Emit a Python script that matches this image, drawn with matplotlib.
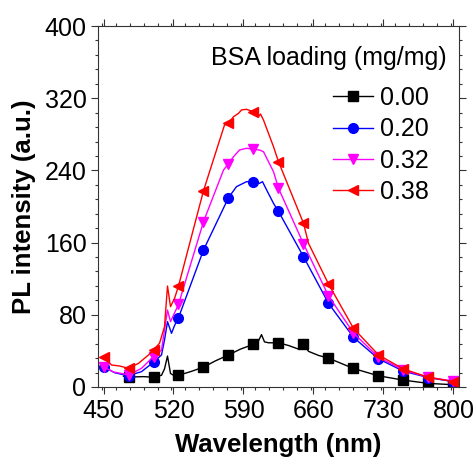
""" PL spectra for different BSA loadings """

import matplotlib
matplotlib.use("Agg")
import matplotlib.pyplot as plt
from matplotlib.ticker import MultipleLocator

plt.rcParams["font.family"] = ["Liberation Sans", "DejaVu Sans"]

# marker wavelengths (nm)
marker_wl = [450, 475, 500, 525, 550, 575, 600, 625, 650, 675, 700, 725, 750, 775, 800]

# 0.00 mg/mg
wl_000 = [470, 475, 490, 500, 508, 511, 514, 517, 520, 525, 537, 550, 562, 575, 587,
          600, 604, 608, 611, 615, 625, 635, 645, 650, 655, 665, 675, 700, 725, 750,
          775, 800]
pl_000 = [12, 11, 11.5, 10.8, 13, 20, 34.3, 15, 13, 13, 17, 22, 29, 35.5, 42,
          47.3, 49, 58, 50, 49, 49, 46, 42, 48, 39.5, 35, 32, 20.5, 12.4, 7.6,
          4, 2.5]

# 0.20 mg/mg
wl_020 = [450, 461, 471, 475, 488, 500, 508, 511, 514, 518, 521, 525, 550, 575, 583,
          593, 600, 606, 609, 614, 620, 625, 650, 675, 700, 725, 750, 775, 800]
pl_020 = [22.5, 15.9, 13.3, 12.7, 17, 27.5, 35.5, 52, 72.4, 59.5, 68, 76.8, 151.8, 209.8, 222,
          227.5, 227.5, 225.7, 227.5, 216.4, 203.5, 194.5, 144.4, 92.7, 55, 31.2, 17.5, 10.4, 5.9]

# 0.32 mg/mg
wl_032 = [450, 460, 468, 475, 488, 500, 508, 511, 514, 517, 521, 525, 550, 570, 575,
          580, 586, 593, 600, 606, 610, 615, 620, 625, 650, 675, 700, 725, 750, 775, 800]
pl_032 = [22.5, 16.6, 15, 13.3, 20.7, 33.6, 41, 63, 85.3, 72.4, 82, 91.5, 183.2, 240.4, 247.5,
          255.2, 262.6, 264.5, 263.4, 262.6, 260.7, 249.6, 238.6, 220.2, 158.6, 101, 59.8, 32.9,
          18.8, 10.7, 6.6]

# 0.38 mg/mg
wl_038 = [450, 458, 466, 475, 485, 495, 500, 506, 511, 514, 517, 521, 525, 550, 571,
          575, 580, 585, 588, 593, 600, 605, 607, 610, 615, 620, 625, 650, 655, 675,
          700, 725, 750, 775, 800]
pl_038 = [33.6, 24.4, 23.3, 20.7, 26.2, 35.5, 41, 48.4, 66.8, 111.9, 89, 98, 111.9, 217.5, 290.3,
          292, 299.5, 303.2, 307, 307.7, 305, 299.5, 302.5, 295.8, 281, 266.3, 249.6, 181.4, 159.2,
          114.1, 65, 35.5, 19.9, 10.8, 6]

labels = ["0.00", "0.20", "0.32", "0.38"]


def main():
    fig = plt.figure(figsize=(4.77, 4.59), dpi=100)
    ax = fig.add_axes([97.5 / 477, 1 - 387 / 459, (459 - 97.5) / 477, (387 - 26) / 459])

    series = [
        (wl_000, pl_000, "black", "s", 6.5),
        (wl_020, pl_020, "#0000FF", "o", 7),
        (wl_032, pl_032, "#FF00FF", "v", 7.5),
        (wl_038, pl_038, "#FF0000", "<", 7.5),
    ]
    for (wl, pl, color, marker, msize), label in zip(series, labels):
        marks = [i for i, w in enumerate(wl) if w in marker_wl]
        ax.plot(wl, pl, color=color, lw=1.0, marker=marker, markersize=msize,
                markevery=marks, label=label)

    ax.set_xlim(444, 805.5)
    ax.set_ylim(0, 400)
    ax.xaxis.set_major_locator(MultipleLocator(70))
    ax.xaxis.set_minor_locator(MultipleLocator(14))
    ax.yaxis.set_major_locator(MultipleLocator(80))
    ax.yaxis.set_minor_locator(MultipleLocator(16))
    ax.set_xticks([450, 520, 590, 660, 730, 800])

    ax.tick_params(which="both", direction="out", top=True, right=True,
                   labelsize=18, width=0.8, color="#333333")
    ax.tick_params(which="major", length=5, pad=3)
    ax.tick_params(axis="x", which="major", pad=4)
    ax.tick_params(which="minor", length=2.5)
    for sp in ax.spines.values():
        sp.set_linewidth(0.8)
        sp.set_color("#333333")

    ax.set_xlabel("Wavelength (nm)", fontsize=18.5, fontweight="bold", labelpad=7)
    ax.set_ylabel("PL intensity (a.u.)", fontsize=18.5, fontweight="bold", labelpad=6)

    ax.text(447 / 477, 1 - 58 / 459, "BSA loading (mg/mg)", transform=fig.transFigure,
            ha="right", va="center", fontsize=18)
    ax.legend(loc="upper left", bbox_to_anchor=(333 / 477, 1 - 86 / 459),
              bbox_transform=fig.transFigure, frameon=False, fontsize=18,
              handlelength=1.6, handletextpad=0.3, labelspacing=0.29, borderpad=0,
              borderaxespad=0)

    fig.savefig("out.png", dpi=100)


if __name__ == "__main__":
    main()
